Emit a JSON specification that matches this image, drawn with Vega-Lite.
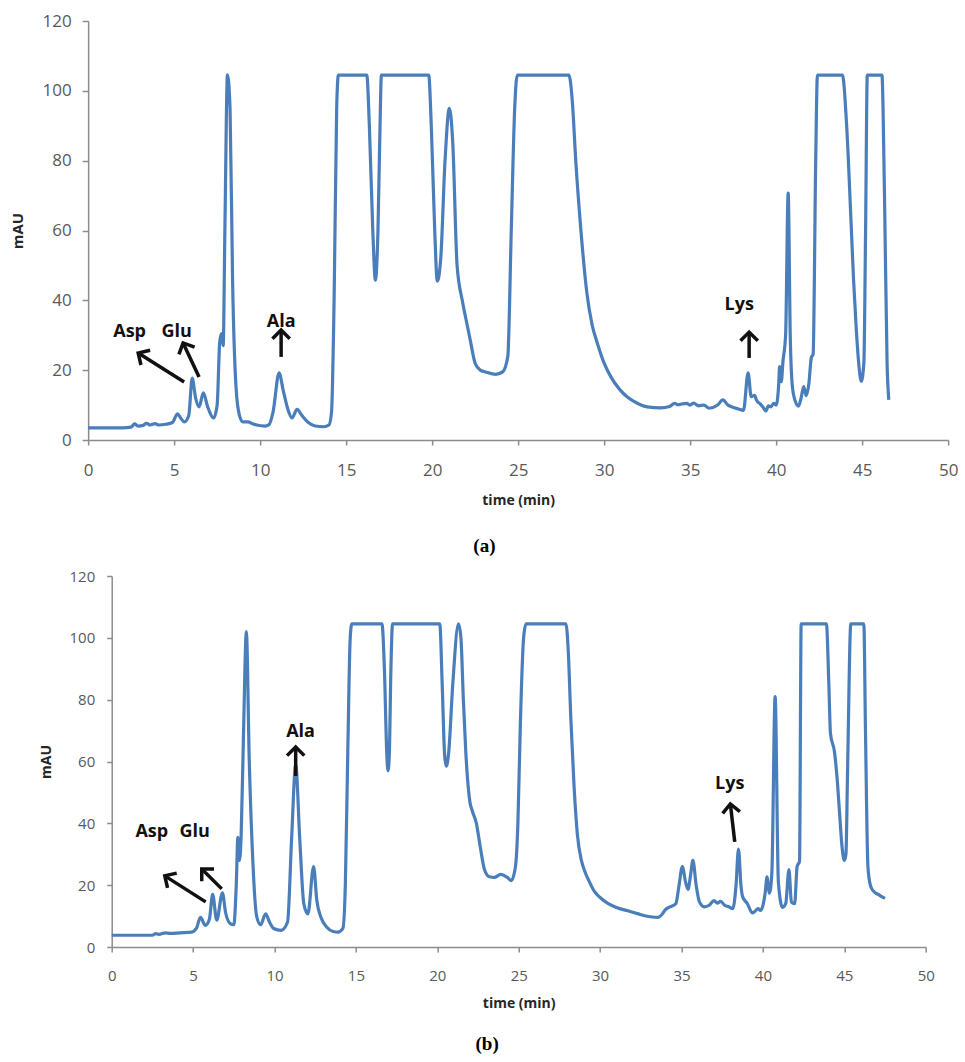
{
  "$schema": "https://vega.github.io/schema/vega-lite/v6.json",
  "padding": {"left": 10, "top": 12, "right": 5, "bottom": 5},
  "background": "white",
  "config": {
    "view": {"stroke": null},
    "axis": {"grid": false, "domainColor": "#8c8c8c", "tickColor": "#8c8c8c", "domainWidth": 1.5, "tickWidth": 1.5, "labelColor": "#595959", "labelFont": "Open Sans", "titleFont": "Open Sans", "titleFontWeight": "bold", "titleColor": "#262626", "labelFlush": false},
    "title": {"font": "Liberation Serif", "fontWeight": "bold", "fontSize": 19, "color": "#000000"}
  },
  "spacing": 13,
  "center": true,
  "datasets": {
    "chromA": [
      {"time": 0, "mAU": 3.5}, {"time": 1, "mAU": 3.5}, {"time": 2, "mAU": 3.5}, {"time": 2.5, "mAU": 3.7}, {"time": 2.7, "mAU": 4.6}, {"time": 2.9, "mAU": 4.0}, {"time": 3.2, "mAU": 4.2}, {"time": 3.4, "mAU": 4.8}, {"time": 3.6, "mAU": 4.3}, {"time": 3.9, "mAU": 4.7}, {"time": 4.1, "mAU": 4.3}, {"time": 4.5, "mAU": 4.5}, {"time": 4.9, "mAU": 5.0}, {"time": 5.2, "mAU": 7.5}, {"time": 5.35, "mAU": 6.5}, {"time": 5.6, "mAU": 5.2}, {"time": 5.85, "mAU": 7}, {"time": 6.05, "mAU": 17.7}, {"time": 6.25, "mAU": 12}, {"time": 6.45, "mAU": 9.5}, {"time": 6.7, "mAU": 13.5}, {"time": 6.95, "mAU": 9.5}, {"time": 7.3, "mAU": 6.3}, {"time": 7.5, "mAU": 10}, {"time": 7.65, "mAU": 28}, {"time": 7.75, "mAU": 30.5}, {"time": 7.85, "mAU": 27}, {"time": 7.95, "mAU": 60}, {"time": 8.1, "mAU": 104.6}, {"time": 8.25, "mAU": 95}, {"time": 8.4, "mAU": 45}, {"time": 8.6, "mAU": 15}, {"time": 8.8, "mAU": 7}, {"time": 9.0, "mAU": 5.2}, {"time": 9.3, "mAU": 5.2}, {"time": 9.5, "mAU": 4.8}, {"time": 9.8, "mAU": 4.3}, {"time": 10.3, "mAU": 4.0}, {"time": 10.5, "mAU": 4.3}, {"time": 10.75, "mAU": 8}, {"time": 11.1, "mAU": 19.2}, {"time": 11.35, "mAU": 14}, {"time": 11.6, "mAU": 9}, {"time": 11.85, "mAU": 6.3}, {"time": 12.15, "mAU": 8.8}, {"time": 12.4, "mAU": 7.2}, {"time": 12.8, "mAU": 5}, {"time": 13.2, "mAU": 4.0}, {"time": 13.7, "mAU": 3.8}, {"time": 14.0, "mAU": 4.3}, {"time": 14.15, "mAU": 8}, {"time": 14.3, "mAU": 40}, {"time": 14.45, "mAU": 95}, {"time": 14.55, "mAU": 104.5}, {"time": 16.2, "mAU": 104.5}, {"time": 16.35, "mAU": 90}, {"time": 16.55, "mAU": 60}, {"time": 16.7, "mAU": 45.8}, {"time": 16.85, "mAU": 60}, {"time": 16.97, "mAU": 90}, {"time": 17.05, "mAU": 104.5}, {"time": 19.8, "mAU": 104.5}, {"time": 19.95, "mAU": 90}, {"time": 20.15, "mAU": 60}, {"time": 20.3, "mAU": 45.5}, {"time": 20.5, "mAU": 52}, {"time": 20.75, "mAU": 80}, {"time": 21.0, "mAU": 95}, {"time": 21.2, "mAU": 85}, {"time": 21.45, "mAU": 50}, {"time": 21.75, "mAU": 40}, {"time": 21.95, "mAU": 35}, {"time": 22.2, "mAU": 29}, {"time": 22.5, "mAU": 22}, {"time": 22.8, "mAU": 20}, {"time": 23.1, "mAU": 19.5}, {"time": 23.7, "mAU": 18.8}, {"time": 24.1, "mAU": 19.5}, {"time": 24.4, "mAU": 24}, {"time": 24.6, "mAU": 60}, {"time": 24.8, "mAU": 95}, {"time": 24.95, "mAU": 104.5}, {"time": 27.95, "mAU": 104.5}, {"time": 28.15, "mAU": 97}, {"time": 28.35, "mAU": 80}, {"time": 28.65, "mAU": 60}, {"time": 29.0, "mAU": 42}, {"time": 29.3, "mAU": 33}, {"time": 29.6, "mAU": 27.8}, {"time": 30.0, "mAU": 22}, {"time": 30.4, "mAU": 18}, {"time": 30.9, "mAU": 14.5}, {"time": 31.35, "mAU": 12.3}, {"time": 31.9, "mAU": 10.6}, {"time": 32.5, "mAU": 9.5}, {"time": 33.3, "mAU": 9.2}, {"time": 33.8, "mAU": 9.6}, {"time": 34.1, "mAU": 10.5}, {"time": 34.3, "mAU": 10.1}, {"time": 34.5, "mAU": 10.3}, {"time": 34.8, "mAU": 10.5}, {"time": 35.0, "mAU": 10}, {"time": 35.2, "mAU": 10.6}, {"time": 35.5, "mAU": 9.8}, {"time": 35.8, "mAU": 10.0}, {"time": 36.1, "mAU": 9.1}, {"time": 36.6, "mAU": 10}, {"time": 36.9, "mAU": 11.5}, {"time": 37.2, "mAU": 10}, {"time": 37.4, "mAU": 9.5}, {"time": 37.8, "mAU": 8.9}, {"time": 38.1, "mAU": 8.5}, {"time": 38.37, "mAU": 19.2}, {"time": 38.55, "mAU": 12.4}, {"time": 38.75, "mAU": 12.8}, {"time": 38.85, "mAU": 11.5}, {"time": 39.1, "mAU": 10.2}, {"time": 39.25, "mAU": 9.3}, {"time": 39.4, "mAU": 8.3}, {"time": 39.55, "mAU": 9.8}, {"time": 39.7, "mAU": 9.5}, {"time": 39.85, "mAU": 10.5}, {"time": 40.0, "mAU": 10}, {"time": 40.15, "mAU": 16}, {"time": 40.2, "mAU": 21}, {"time": 40.3, "mAU": 16.7}, {"time": 40.4, "mAU": 22.7}, {"time": 40.55, "mAU": 30}, {"time": 40.7, "mAU": 70.7}, {"time": 40.82, "mAU": 30}, {"time": 40.95, "mAU": 15}, {"time": 41.1, "mAU": 11.3}, {"time": 41.3, "mAU": 9.7}, {"time": 41.45, "mAU": 12}, {"time": 41.6, "mAU": 15.3}, {"time": 41.75, "mAU": 12.7}, {"time": 41.9, "mAU": 16}, {"time": 42.05, "mAU": 23.7}, {"time": 42.15, "mAU": 24.5}, {"time": 42.3, "mAU": 80}, {"time": 42.4, "mAU": 104.5}, {"time": 43.85, "mAU": 104.5}, {"time": 44.1, "mAU": 90}, {"time": 44.35, "mAU": 63}, {"time": 44.5, "mAU": 46}, {"time": 44.65, "mAU": 32.5}, {"time": 44.8, "mAU": 22}, {"time": 44.95, "mAU": 16.8}, {"time": 45.1, "mAU": 22}, {"time": 45.2, "mAU": 60}, {"time": 45.3, "mAU": 104.5}, {"time": 46.15, "mAU": 104.5}, {"time": 46.3, "mAU": 70}, {"time": 46.45, "mAU": 22}, {"time": 46.55, "mAU": 11.5}
    ],
    "chromB": [
      {"time": 0, "mAU": 3.8}, {"time": 2.5, "mAU": 3.8}, {"time": 2.7, "mAU": 4.3}, {"time": 2.9, "mAU": 4.1}, {"time": 3.3, "mAU": 4.6}, {"time": 3.6, "mAU": 4.4}, {"time": 4.2, "mAU": 4.6}, {"time": 4.9, "mAU": 4.8}, {"time": 5.2, "mAU": 6}, {"time": 5.45, "mAU": 9.6}, {"time": 5.75, "mAU": 7}, {"time": 6.0, "mAU": 9}, {"time": 6.2, "mAU": 17}, {"time": 6.45, "mAU": 8.7}, {"time": 6.8, "mAU": 17.5}, {"time": 7.0, "mAU": 11}, {"time": 7.3, "mAU": 7.5}, {"time": 7.5, "mAU": 7.2}, {"time": 7.65, "mAU": 20}, {"time": 7.75, "mAU": 35.5}, {"time": 7.85, "mAU": 28}, {"time": 7.95, "mAU": 36}, {"time": 8.1, "mAU": 70}, {"time": 8.27, "mAU": 102}, {"time": 8.45, "mAU": 60}, {"time": 8.65, "mAU": 30}, {"time": 8.9, "mAU": 10}, {"time": 9.15, "mAU": 7.2}, {"time": 9.45, "mAU": 10.7}, {"time": 9.7, "mAU": 8}, {"time": 9.95, "mAU": 6}, {"time": 10.4, "mAU": 5.4}, {"time": 10.8, "mAU": 8}, {"time": 11.05, "mAU": 35}, {"time": 11.3, "mAU": 59}, {"time": 11.55, "mAU": 35}, {"time": 11.8, "mAU": 14}, {"time": 12.05, "mAU": 10.7}, {"time": 12.4, "mAU": 26}, {"time": 12.6, "mAU": 15}, {"time": 12.85, "mAU": 9.6}, {"time": 13.2, "mAU": 6.5}, {"time": 13.6, "mAU": 5}, {"time": 13.9, "mAU": 4.8}, {"time": 14.2, "mAU": 6}, {"time": 14.35, "mAU": 20}, {"time": 14.5, "mAU": 63}, {"time": 14.65, "mAU": 100}, {"time": 14.75, "mAU": 104.5}, {"time": 16.6, "mAU": 104.5}, {"time": 16.75, "mAU": 90}, {"time": 16.9, "mAU": 62}, {"time": 16.97, "mAU": 57}, {"time": 17.05, "mAU": 62}, {"time": 17.15, "mAU": 90}, {"time": 17.25, "mAU": 104.5}, {"time": 20.15, "mAU": 104.5}, {"time": 20.3, "mAU": 85}, {"time": 20.45, "mAU": 62}, {"time": 20.55, "mAU": 58.5}, {"time": 20.7, "mAU": 63}, {"time": 20.95, "mAU": 85}, {"time": 21.3, "mAU": 104.5}, {"time": 21.45, "mAU": 100}, {"time": 21.6, "mAU": 80}, {"time": 21.75, "mAU": 63}, {"time": 22.0, "mAU": 47}, {"time": 22.15, "mAU": 44}, {"time": 22.4, "mAU": 40}, {"time": 22.65, "mAU": 32}, {"time": 22.9, "mAU": 25}, {"time": 23.2, "mAU": 22.7}, {"time": 23.5, "mAU": 22.5}, {"time": 23.9, "mAU": 23.5}, {"time": 24.3, "mAU": 22.5}, {"time": 24.55, "mAU": 21.5}, {"time": 24.8, "mAU": 26}, {"time": 24.95, "mAU": 40}, {"time": 25.1, "mAU": 72}, {"time": 25.3, "mAU": 100}, {"time": 25.45, "mAU": 104.5}, {"time": 27.9, "mAU": 104.5}, {"time": 28.05, "mAU": 95}, {"time": 28.2, "mAU": 74}, {"time": 28.4, "mAU": 52}, {"time": 28.6, "mAU": 36.6}, {"time": 28.85, "mAU": 28}, {"time": 29.05, "mAU": 24.6}, {"time": 29.35, "mAU": 21}, {"time": 29.65, "mAU": 18}, {"time": 30.0, "mAU": 16}, {"time": 30.45, "mAU": 14.2}, {"time": 31.0, "mAU": 12.8}, {"time": 31.7, "mAU": 11.7}, {"time": 32.3, "mAU": 10.8}, {"time": 32.75, "mAU": 10.1}, {"time": 33.2, "mAU": 9.7}, {"time": 33.55, "mAU": 9.6}, {"time": 33.8, "mAU": 10.5}, {"time": 34.0, "mAU": 12}, {"time": 34.3, "mAU": 13}, {"time": 34.65, "mAU": 14}, {"time": 34.85, "mAU": 20}, {"time": 35.05, "mAU": 26}, {"time": 35.25, "mAU": 21}, {"time": 35.4, "mAU": 18.7}, {"time": 35.55, "mAU": 23}, {"time": 35.7, "mAU": 28}, {"time": 35.9, "mAU": 20}, {"time": 36.1, "mAU": 14.6}, {"time": 36.4, "mAU": 13}, {"time": 36.7, "mAU": 13.5}, {"time": 37.0, "mAU": 15}, {"time": 37.2, "mAU": 14.2}, {"time": 37.4, "mAU": 14.8}, {"time": 37.65, "mAU": 13.5}, {"time": 37.9, "mAU": 13}, {"time": 38.15, "mAU": 12.4}, {"time": 38.35, "mAU": 20}, {"time": 38.5, "mAU": 31.7}, {"time": 38.65, "mAU": 20}, {"time": 38.75, "mAU": 16.3}, {"time": 39.05, "mAU": 14}, {"time": 39.35, "mAU": 11}, {"time": 39.5, "mAU": 11.5}, {"time": 39.7, "mAU": 12.4}, {"time": 39.85, "mAU": 11.8}, {"time": 40.0, "mAU": 13.4}, {"time": 40.15, "mAU": 18}, {"time": 40.25, "mAU": 22.7}, {"time": 40.4, "mAU": 17.4}, {"time": 40.55, "mAU": 24}, {"time": 40.75, "mAU": 81}, {"time": 40.95, "mAU": 21}, {"time": 41.2, "mAU": 12.8}, {"time": 41.4, "mAU": 14}, {"time": 41.6, "mAU": 25}, {"time": 41.75, "mAU": 14.5}, {"time": 41.95, "mAU": 14}, {"time": 42.1, "mAU": 26}, {"time": 42.25, "mAU": 27.8}, {"time": 42.35, "mAU": 104.5}, {"time": 43.9, "mAU": 104.5}, {"time": 44.05, "mAU": 85}, {"time": 44.15, "mAU": 69}, {"time": 44.4, "mAU": 63}, {"time": 44.55, "mAU": 55}, {"time": 44.7, "mAU": 44}, {"time": 44.85, "mAU": 33}, {"time": 45.0, "mAU": 28}, {"time": 45.1, "mAU": 30}, {"time": 45.2, "mAU": 57}, {"time": 45.4, "mAU": 104.5}, {"time": 46.2, "mAU": 104.5}, {"time": 46.3, "mAU": 70}, {"time": 46.45, "mAU": 26}, {"time": 46.6, "mAU": 20}, {"time": 46.75, "mAU": 18.3}, {"time": 47.15, "mAU": 16.8}, {"time": 47.5, "mAU": 15.7}
    ],
    "arrowsA": [
      {"name": "Asp", "time": 5.58, "mAU": 16.6, "time2": 2.91, "mAU2": 24.9, "dir": 302},
      {"name": "Glu", "time": 6.45, "mAU": 18.05, "time2": 5.52, "mAU2": 27.8, "dir": 335},
      {"name": "Ala", "time": 11.22, "mAU": 23.8, "time2": 11.22, "mAU2": 31.5, "dir": 0},
      {"name": "Lys", "time": 38.43, "mAU": 23.5, "time2": 38.43, "mAU2": 30.9, "dir": 0}
    ],
    "labelsA": [
      {"label": "Asp", "time": 2.41, "mAU": 30.9},
      {"label": "Glu", "time": 5.15, "mAU": 30.9},
      {"label": "Ala", "time": 11.22, "mAU": 33.8},
      {"label": "Lys", "time": 37.85, "mAU": 38.7}
    ],
    "arrowsB": [
      {"name": "Asp", "time": 5.77, "mAU": 14.6, "time2": 3.26, "mAU2": 23.0, "dir": 302},
      {"name": "Glu", "time": 6.76, "mAU": 18.8, "time2": 5.53, "mAU2": 25.2, "dir": 315},
      {"name": "Ala", "time": 11.3, "mAU": 55.3, "time2": 11.3, "mAU2": 64.7, "dir": 0},
      {"name": "Lys", "time": 38.27, "mAU": 34, "time2": 38.0, "mAU2": 46.3, "dir": 354}
    ],
    "labelsB": [
      {"label": "Asp", "time": 2.46, "mAU": 37.2},
      {"label": "Glu", "time": 5.10, "mAU": 37.2},
      {"label": "Ala", "time": 11.6, "mAU": 69.6},
      {"label": "Lys", "time": 37.96, "mAU": 52.8}
    ]
  },
  "vconcat": [
    {
      "width": 860,
      "height": 419,
      "title": {"text": "(a)", "orient": "bottom", "offset": 30, "frame": "bounds", "anchor": "middle"},
      "layer": [
        {
          "data": {"name": "chromA"},
          "mark": {"type": "line", "color": "#4a7ebb", "strokeWidth": 3.2, "interpolate": "monotone"},
          "encoding": {
            "x": {"field": "time", "type": "quantitative", "scale": {"domain": [0, 50], "nice": false},
                  "axis": {"title": "time (min)", "values": [0, 5, 10, 15, 20, 25, 30, 35, 40, 45, 50], "labelFontSize": 17, "labelPadding": 17, "tickSize": 5, "titleFontSize": 14, "titlePadding": 15}},
            "y": {"field": "mAU", "type": "quantitative", "scale": {"domain": [0, 120], "nice": false},
                  "axis": {"title": "mAU", "values": [0, 20, 40, 60, 80, 100, 120], "labelFontSize": 17, "labelPadding": 11, "tickSize": 6, "titleFontSize": 15, "titlePadding": 16}}
          }
        },
        {
          "data": {"name": "arrowsA"},
          "mark": {"type": "rule", "color": "#111111", "strokeWidth": 3.5},
          "encoding": {
            "x": {"field": "time", "type": "quantitative"},
            "y": {"field": "mAU", "type": "quantitative"},
            "x2": {"field": "time2"},
            "y2": {"field": "mAU2"}
          }
        },
        {
          "data": {"name": "arrowsA"},
          "mark": {"type": "point", "shape": "M-1,1L0,0L1,1", "filled": false, "color": "#111111", "strokeWidth": 3.5, "size": 300, "opacity": 1, "strokeJoin": "miter"},
          "encoding": {
            "x": {"field": "time2", "type": "quantitative"},
            "y": {"field": "mAU2", "type": "quantitative"},
            "angle": {"field": "dir", "type": "quantitative", "scale": null}
          }
        },
        {
          "data": {"name": "labelsA"},
          "mark": {"type": "text", "font": "Open Sans", "fontWeight": "bold", "fontSize": 18, "color": "#111111", "baseline": "middle"},
          "encoding": {
            "x": {"field": "time", "type": "quantitative"},
            "y": {"field": "mAU", "type": "quantitative"},
            "text": {"field": "label"}
          }
        }
      ]
    },
    {
      "width": 814,
      "height": 371,
      "title": {"text": "(b)", "orient": "bottom", "offset": 25, "frame": "bounds", "anchor": "middle"},
      "layer": [
        {
          "data": {"name": "chromB"},
          "mark": {"type": "line", "color": "#4a7ebb", "strokeWidth": 3.2, "interpolate": "monotone"},
          "encoding": {
            "x": {"field": "time", "type": "quantitative", "scale": {"domain": [0, 50], "nice": false},
                  "axis": {"title": "time (min)", "values": [0, 5, 10, 15, 20, 25, 30, 35, 40, 45, 50], "labelFontSize": 15, "labelPadding": 16, "tickSize": 5, "titleFontSize": 14, "titlePadding": 13}},
            "y": {"field": "mAU", "type": "quantitative", "scale": {"domain": [0, 120], "nice": false},
                  "axis": {"title": "mAU", "values": [0, 20, 40, 60, 80, 100, 120], "labelFontSize": 15, "labelPadding": 12, "tickSize": 5, "titleFontSize": 14, "titlePadding": 15}}
          }
        },
        {
          "data": {"name": "arrowsB"},
          "mark": {"type": "rule", "color": "#111111", "strokeWidth": 3.5},
          "encoding": {
            "x": {"field": "time", "type": "quantitative"},
            "y": {"field": "mAU", "type": "quantitative"},
            "x2": {"field": "time2"},
            "y2": {"field": "mAU2"}
          }
        },
        {
          "data": {"name": "arrowsB"},
          "mark": {"type": "point", "shape": "M-1,1L0,0L1,1", "filled": false, "color": "#111111", "strokeWidth": 3.5, "size": 300, "opacity": 1, "strokeJoin": "miter"},
          "encoding": {
            "x": {"field": "time2", "type": "quantitative"},
            "y": {"field": "mAU2", "type": "quantitative"},
            "angle": {"field": "dir", "type": "quantitative", "scale": null}
          }
        },
        {
          "data": {"name": "labelsB"},
          "mark": {"type": "text", "font": "Open Sans", "fontWeight": "bold", "fontSize": 18, "color": "#111111", "baseline": "middle"},
          "encoding": {
            "x": {"field": "time", "type": "quantitative"},
            "y": {"field": "mAU", "type": "quantitative"},
            "text": {"field": "label"}
          }
        }
      ]
    }
  ]
}
